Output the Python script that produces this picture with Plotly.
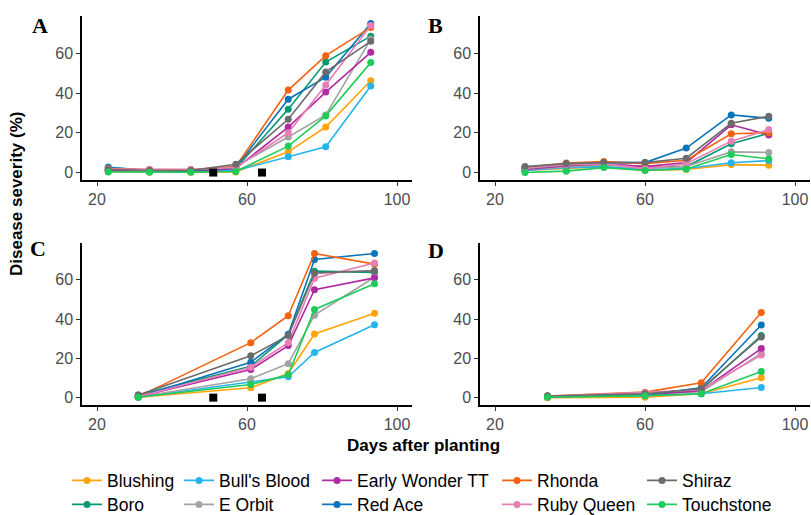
import plotly.graph_objects as go

# ---------------- data ----------------
cultivars = ["Blushing", "Boro", "Bull's Blood", "E Orbit", "Early Wonder TT",
             "Red Ace", "Rhonda", "Ruby Queen", "Shiraz", "Touchstone"]
colors = {
    "Blushing": "#FFA40A",
    "Boro": "#079A72",
    "Bull's Blood": "#25B5EE",
    "E Orbit": "#A3A3A3",
    "Early Wonder TT": "#B02AA1",
    "Red Ace": "#0A74B8",
    "Rhonda": "#F5620F",
    "Ruby Queen": "#E67FB5",
    "Shiraz": "#6B6B6B",
    "Touchstone": "#1FCC5A",
}

days_A = [23, 34, 45, 57, 71, 81, 93]
sev_A = {
    "Blushing":        [0.5, 0.3, 0.2, 0.3, 10.4, 22.9, 46.2],
    "Boro":            [1.0, 0.8, 0.5, 2.0, 31.9, 55.6, 68.6],
    "Bull's Blood":    [2.8, 1.0, 0.5, 1.0, 7.9, 13.0, 43.5],
    "E Orbit":         [1.0, 0.5, 0.5, 3.0, 17.9, 29.0, 67.0],
    "Early Wonder TT": [1.0, 1.0, 0.5, 2.0, 22.9, 40.5, 60.5],
    "Red Ace":         [2.5, 1.0, 1.0, 2.5, 36.9, 48.0, 75.0],
    "Rhonda":          [2.0, 1.5, 1.5, 3.0, 41.5, 58.8, 73.0],
    "Ruby Queen":      [1.7, 1.5, 1.5, 2.5, 20.0, 44.0, 74.0],
    "Shiraz":          [1.5, 1.0, 1.0, 4.2, 26.8, 50.6, 66.0],
    "Touchstone":      [0.3, 0.2, 0.2, 0.5, 13.3, 28.5, 55.3],
}

days_B = [28, 39, 49, 60, 71, 83, 93]
sev_B = {
    "Blushing":        [1.0, 2.0, 3.0, 1.0, 1.5, 4.0, 3.7],
    "Boro":            [2.0, 3.0, 4.0, 3.0, 3.0, 14.5, 19.7],
    "Bull's Blood":    [1.0, 2.5, 3.0, 1.5, 2.0, 4.9, 6.0],
    "E Orbit":         [1.5, 3.0, 4.0, 2.0, 3.0, 10.4, 10.1],
    "Early Wonder TT": [1.5, 3.5, 4.5, 3.0, 5.0, 24.0, 18.9],
    "Red Ace":         [2.0, 4.0, 5.0, 5.0, 12.3, 29.0, 27.3],
    "Rhonda":          [2.5, 4.8, 5.5, 4.5, 6.2, 19.5, 20.0],
    "Ruby Queen":      [2.0, 4.0, 4.5, 2.0, 4.5, 15.8, 21.6],
    "Shiraz":          [3.0, 4.5, 5.0, 5.0, 7.2, 24.8, 28.3],
    "Touchstone":      [0.0, 0.7, 2.5, 1.0, 1.8, 9.1, 6.9],
}

days_C = [31, 61, 71, 78, 94]
sev_C = {
    "Blushing":        [0.2, 5.0, 12.3, 32.4, 43.0],
    "Boro":            [1.3, 16.0, 32.0, 64.4, 63.8],
    "Bull's Blood":    [0.2, 7.9, 10.6, 23.0, 37.1],
    "E Orbit":         [0.3, 9.6, 17.3, 42.0, 61.3],
    "Early Wonder TT": [0.5, 14.3, 26.5, 55.0, 61.0],
    "Red Ace":         [0.5, 18.0, 32.3, 70.4, 73.4],
    "Rhonda":          [0.5, 28.0, 41.7, 73.4, 68.0],
    "Ruby Queen":      [0.5, 15.5, 28.0, 60.8, 68.6],
    "Shiraz":          [1.3, 21.3, 31.6, 63.4, 64.7],
    "Touchstone":      [0.2, 6.7, 11.6, 44.9, 58.0],
}

days_D = [34, 60, 75, 91]
sev_D = {
    "Blushing":        [0.0, 0.2, 2.0, 10.1],
    "Boro":            [0.8, 1.5, 4.0, 31.6],
    "Bull's Blood":    [0.3, 1.0, 2.0, 5.2],
    "E Orbit":         [0.5, 1.5, 3.0, 22.5],
    "Early Wonder TT": [0.5, 1.5, 3.5, 25.0],
    "Red Ace":         [0.8, 1.5, 5.0, 37.0],
    "Rhonda":          [0.8, 2.8, 7.6, 43.4],
    "Ruby Queen":      [0.5, 2.5, 4.0, 21.7],
    "Shiraz":          [0.8, 2.0, 4.5, 30.9],
    "Touchstone":      [0.2, 1.0, 2.0, 13.3],
}

event_days = [51, 64]
event_sev = [0, 0]

panel_labels = ["A", "B", "C", "D"]
x_ticks = [20, 60, 100]
y_ticks = [0, 20, 40, 60]

# ---------------- figure ----------------
W, H = 811, 515
fig = go.Figure()

panels = [(days_A, sev_A, "x", "y"), (days_B, sev_B, "x2", "y2"),
          (days_C, sev_C, "x3", "y3"), (days_D, sev_D, "x4", "y4")]

# legend layout: column-major, 5 columns x 2 rows
legend_cols_x = [67, 179, 317, 497, 642]
legend_rows_y = [480.5, 504.5]

for pi, (days, sev, xa, ya) in enumerate(panels):
    for ci, c in enumerate(cultivars):
        tr = dict(x=days, y=sev[c], mode="lines+markers", name=c,
                  line=dict(color=colors[c], width=1.6),
                  marker=dict(color=colors[c], size=7),
                  xaxis=xa, yaxis=ya, showlegend=(pi == 0),
                  legend=("legend" if ci == 0 else f"legend{ci+1}"))
        fig.add_trace(go.Scatter(**tr))
    if pi in (0, 2):
        fig.add_trace(go.Scatter(x=event_days, y=event_sev, mode="markers",
                                 marker=dict(symbol="square", color="black", size=8),
                                 xaxis=xa, yaxis=ya, showlegend=False))

xdom_l = [82 / W, 412 / W]
xdom_r = [480 / W, 810 / W]
ydom_t = [1 - 180 / H, 1 - 16 / H]
ydom_b = [1 - 405 / H, 1 - 243 / H]

tickfont = dict(family="Liberation Sans, Arial, sans-serif", size=16, color="#4D4D4D")
axcommon = dict(showline=True, linecolor="black", linewidth=1.5, showgrid=False,
                zeroline=False, ticks="outside", ticklen=4, tickwidth=1.2,
                tickcolor="#333333", tickfont=tickfont, fixedrange=True)

layout = dict(
    width=W, height=H, margin=dict(l=0, r=0, t=0, b=0, autoexpand=False),
    plot_bgcolor="white", paper_bgcolor="white",
)
doms = [(xdom_l, ydom_t), (xdom_r, ydom_t), (xdom_l, ydom_b), (xdom_r, ydom_b)]
for i, (xd, yd) in enumerate(doms):
    sx = "" if i == 0 else str(i + 1)
    layout[f"xaxis{sx}"] = dict(domain=xd, range=[16, 104], tickvals=x_ticks,
                                anchor=f"y{sx}", **axcommon)
    layout[f"yaxis{sx}"] = dict(domain=yd, range=[-3.75, 78.75], tickvals=y_ticks,
                                anchor=f"x{sx}", **axcommon)

legfont = dict(family="Liberation Sans, Arial, sans-serif", size=17.5, color="black")
for ci in range(len(cultivars)):
    col, row = ci // 2, ci % 2
    key = "legend" if ci == 0 else f"legend{ci+1}"
    layout[key] = dict(x=legend_cols_x[col] / W, y=1 - legend_rows_y[row] / H,
                       xanchor="left", yanchor="middle", orientation="v",
                       bgcolor="rgba(0,0,0,0)", borderwidth=0, font=legfont,
                       itemwidth=30)

annotations = []
letter_pos = [(40, 25.5), (435, 25.5), (38, 248), (436, 250)]
for lab, (px, py) in zip(panel_labels, letter_pos):
    annotations.append(dict(text=f"<b>{lab}</b>", x=px / W, y=1 - py / H,
                            xref="paper", yref="paper", showarrow=False,
                            xanchor="center", yanchor="middle",
                            font=dict(family="Liberation Serif, Times New Roman, serif",
                                      size=22, color="black")))
annotations.append(dict(text="<b>Disease severity (%)</b>", x=17 / W, y=1 - 194 / H,
                        xref="paper", yref="paper", showarrow=False, textangle=-90,
                        xanchor="center", yanchor="middle",
                        font=dict(family="Liberation Sans, Arial, sans-serif", size=17,
                                  color="black")))
annotations.append(dict(text="<b>Days after planting</b>", x=423 / W, y=1 - 445 / H,
                        xref="paper", yref="paper", showarrow=False,
                        xanchor="center", yanchor="middle",
                        font=dict(family="Liberation Sans, Arial, sans-serif", size=17,
                                  color="black")))
layout["annotations"] = annotations

fig.update_layout(**layout)
fig.write_html("out.html")
